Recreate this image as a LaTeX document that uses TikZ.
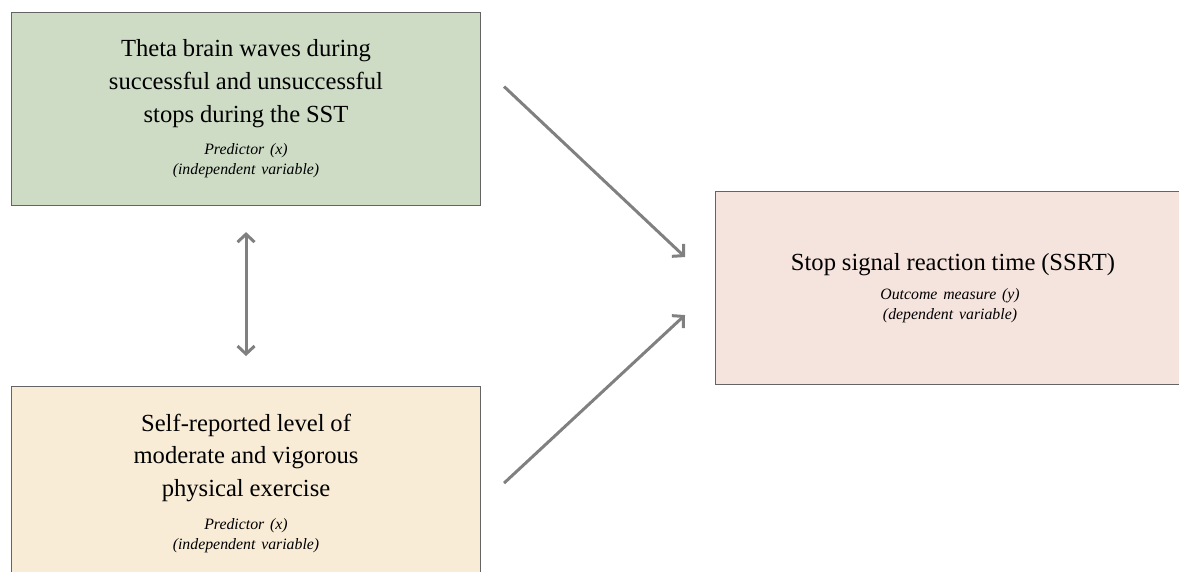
\documentclass[tikz,border=0pt]{standalone}
\usepackage{fontspec}
\setmainfont{Liberation Serif}
\usepackage{tikz}
\usetikzlibrary{arrows.meta,positioning,calc}
\definecolor{thetagreen}{RGB}{206,220,197}
\definecolor{exerciseyellow}{RGB}{248,236,214}
\definecolor{outcomepink}{RGB}{245,227,221}
\definecolor{edgegray}{RGB}{100,100,100}
\definecolor{arrowgray}{RGB}{128,128,128}
\newcommand{\mainsize}{\fontsize{14}{18.7}\selectfont}
\newcommand{\rolesize}{\fontsize{9}{11.4}\selectfont\itshape}

\begin{document}
\begin{tikzpicture}
  \tikzset{box/.style={draw=edgegray,line width=0.6pt,minimum width=9.38cm,minimum height=3.86cm,text width=8.6cm,align=center,inner sep=0pt}}
  \tikzset{link/.style={->,>={Straight Barb[length=1.6mm,width=3.4mm]},draw=arrowgray,line width=1.7pt}}
  \useasboundingbox (0,0) rectangle (23.58,-11.42);
  \node[box,fill=thetagreen,anchor=north west] (theta) at (0.22,-0.24)
    {{\mainsize Theta brain waves during\\ successful and unsuccessful\\ stops during the SST\par}
     \vspace{7pt}
     {\rolesize Predictor (x)\\ (independent variable)\par}};
  \node[box,fill=exerciseyellow,below=3.6cm of theta] (exercise)
    {{\mainsize Self-reported level of\\ moderate and vigorous\\ physical exercise\par}
     \vspace{7pt}
     {\rolesize Predictor (x)\\ (independent variable)\par}};
  \node[box,fill=outcomepink,anchor=north west] (ssrt) at (14.30,-3.82)
    {\vspace*{0.26cm}
     {\mainsize Stop signal reaction time (SSRT)\par}
     \vspace{-1.9pt}
     {\rolesize Outcome measure (y)\\ (dependent variable)\par}};
  % arrow ends
  \coordinate (thetaout) at ($(theta.east)+(0.46,0.45)$);
  \coordinate (exerciseout) at ($(exercise.east)+(0.46,0)$);
  \coordinate (ssrtin1) at ($(ssrt.west)+(-0.6,0.62)$);
  \coordinate (ssrtin2) at ($(ssrt.west)+(-0.6,-0.54)$);
  \draw[link] (thetaout) -- (ssrtin1);
  \draw[link] (exerciseout) -- (ssrtin2);
  \draw[link,<->,shorten <=0.52cm,shorten >=0.6cm] (theta.south) -- (exercise.north);
\end{tikzpicture}
\end{document}
